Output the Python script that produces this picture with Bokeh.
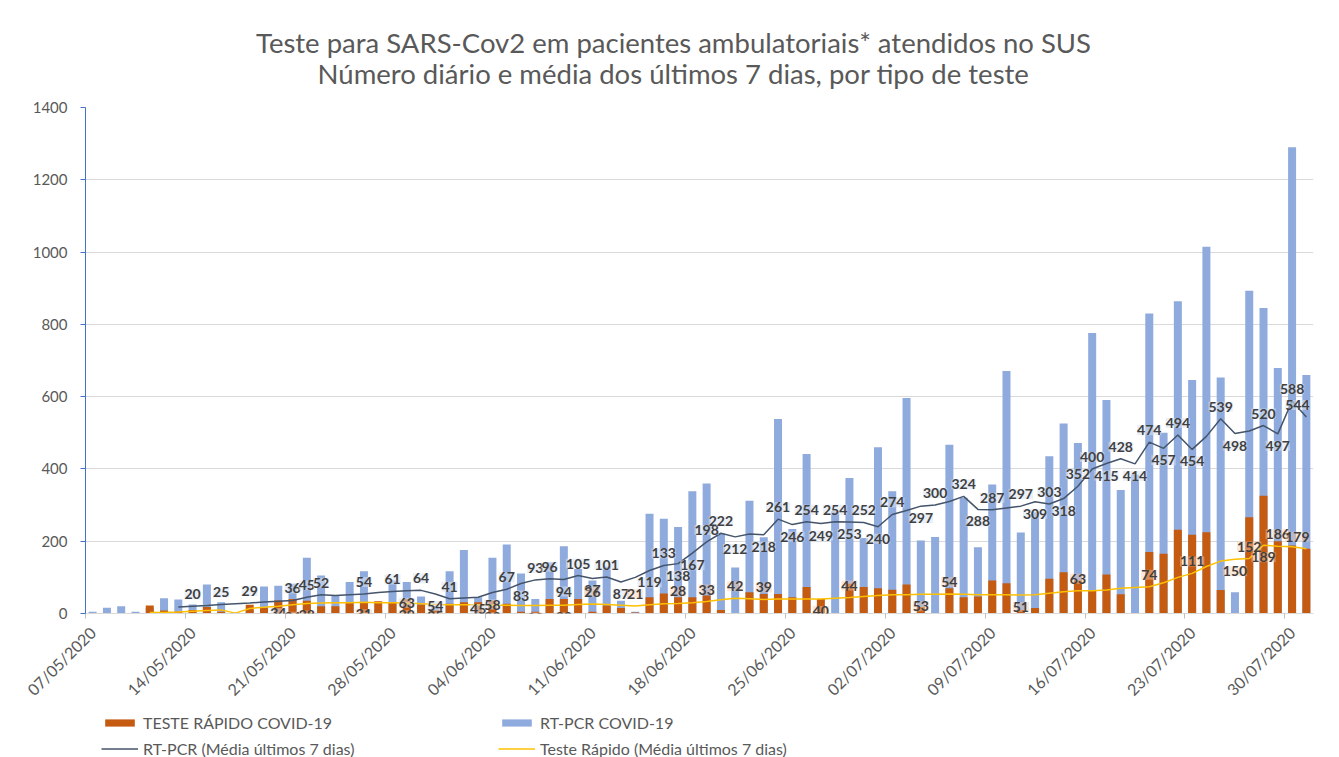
import math
from bokeh.plotting import figure
from bokeh.layouts import column
from bokeh.core.properties import value
from bokeh.models import (ColumnDataSource, LabelSet, Label, Legend, LegendItem,
                          FixedTicker, Range1d)
from bokeh.embed import file_html
from bokeh.resources import INLINE

NaN = float("nan")

# ---------------- data ----------------
title_lines = ["Teste para SARS-Cov2 em pacientes ambulatoriais* atendidos no SUS",
               "Número diário e média dos últimos 7 dias, por tipo de teste"]

tick_labels = ["07/05/2020", "14/05/2020", "21/05/2020", "28/05/2020",
               "04/06/2020", "11/06/2020", "18/06/2020", "25/06/2020",
               "02/07/2020", "09/07/2020", "16/07/2020", "23/07/2020",
               "30/07/2020"]

# daily RT-PCR tests, 07/05 .. 31/07 (86 days)
rt_pcr = [5, 16, 20, 5, 15, 42, 39, 25, 80, 31,
          3, 10, 75, 77, 82, 154, 105, 50, 87, 117,
          10, 91, 87, 47, 20, 117, 176, 45, 154, 191,
          111, 40, 142, 186, 123, 91, 130, 35, 5, 276,
          262, 239, 338, 360, 222, 127, 312, 211, 538, 234,
          441, 20, 283, 375, 209, 460, 338, 596, 202, 212,
          467, 320, 183, 357, 671, 224, 280, 435, 526, 472,
          776, 591, 342, 384, 830, 500, 864, 646, 1015, 653,
          59, 893, 845, 679, 1290, 660]

# daily rapid tests
rapido = [0, 0, 0, 0, 22, 8, 5, 10, 18, 5,
          0, 24, 15, 36, 40, 35, 20, 20, 31, 31,
          34, 31, 40, 25, 10, 27, 31, 31, 36, 27,
          5, 5, 40, 40, 40, 5, 22, 15, 3, 45,
          55, 45, 45, 50, 10, 0, 59, 54, 54, 45,
          73, 40, 0, 82, 73, 70, 66, 80, 18, 0,
          70, 45, 47, 91, 84, 10, 15, 96, 114, 91,
          65, 108, 53, 0, 170, 165, 232, 218, 225, 65,
          0, 266, 326, 200, 188, 179]

# 7-day averages
rt_avg = [NaN, NaN, NaN, NaN, NaN, NaN, 18, 20, 22, 25,
          27, 29, 32, 34, 36, 45, 52, 50, 52, 54,
          58, 61, 63, 64, 54, 41, 43, 45, 58, 67,
          83, 93, 96, 94, 105, 97, 101, 87, 100, 119,
          133, 138, 167, 198, 222, 212, 220, 218, 261, 246,
          254, 249, 254, 253, 252, 240, 274, 285, 297, 300,
          310, 324, 288, 287, 292, 297, 309, 303, 318, 352,
          400, 415, 428, 414, 474, 457, 494, 454, 490, 539,
          498, 505, 520, 497, 588, 544]

rapid_avg = [NaN, NaN, NaN, NaN, 3, 3, 4, 6, 8, 10,
             1, 14, 17, 20, 24, 28, 29, 30, 30, 31,
             30, 30, 29, 27, 25, 24, 24, 24, 23, 23,
             22, 22, 23, 23, 25, 26, 25, 23, 21, 24,
             27, 28, 30, 33, 38, 42, 41, 39, 40, 40,
             40, 40, 42, 44, 47, 50, 52, 52, 53, 53,
             54, 53, 52, 52, 52, 51, 52, 56, 60, 63,
             63, 65, 70, 72, 74, 85, 100, 111, 130, 145,
             150, 152, 189, 186, 185, 179]

# which days carry a visible data label, and on which side (+1 above, -1 below)
rt_label_days = [7, 9, 11, 13, 14, 15, 16, 19, 21, 22, 23, 24, 25, 27, 28, 29,
                 30, 31, 32, 33, 34, 35, 36, 37, 39, 40, 41, 42, 43, 44, 45, 47,
                 48, 49, 50, 51, 52, 53, 54, 55, 56, 58, 59, 61, 62, 63, 65, 66,
                 67, 68, 69, 70, 71, 72, 73, 74, 75, 76, 77, 79, 80, 82, 83, 84, 85]
rt_label_side = [1, 1, 1, -1, 1, 1, 1, 1, 1, -1, 1, -1, 1, -1, -1, 1,
                 -1, 1, 1, -1, 1, -1, 1, -1, -1, 1, -1, -1, 1, 1, -1, -1,
                 1, -1, 1, -1, 1, -1, 1, -1, 1, -1, 1, 1, -1, 1, 1, -1,
                 1, -1, 1, 1, -1, 1, -1, 1, -1, 1, -1, 1, -1, 1, -1, 1, 1]

rapid_label_days = [5, 6, 7, 10, 12, 14, 15, 19, 22, 24, 28, 31, 33, 35, 38, 41,
                    43, 45, 47, 51, 53, 58, 60, 65, 69, 74, 77, 80, 81, 82, 83, 85]
rapid_label_side = [-1, -1, -1, -1, -1, -1, -1, -1, -1, -1, -1, -1, -1, 1, 1, 1,
                    1, 1, 1, -1, 1, -1, 1, -1, 1, 1, 1, -1, 1, -1, 1, 1]

# ---------------- styling ----------------
FONT = "Lato"
TXT = "#595959"
BLUE = "#8FAADC"
ORANGE = "#C55A11"
DARK = "#44546A"
YELLOW = "#FFC000"

W = 1339
TITLE_H = 97
MAIN_H = 615
LEG_H = 45
FRAME_L, FRAME_R = 85, 1313
FRAME_TOP = 10                      # inside the main figure
FRAME_BOTTOM = 613 - TITLE_H        # axis line position inside the main figure

n = len(rt_pcr)
days = list(range(n))

# ---------------- title strip (its frame is aligned with the chart frame) ----------------
tf = figure(width=W, height=TITLE_H, output_backend="svg", toolbar_location=None,
            x_range=Range1d(FRAME_L, FRAME_R), y_range=Range1d(0, TITLE_H),
            x_axis_type=None, y_axis_type=None, min_border=0)
tf.outline_line_color = None
tf.xgrid.grid_line_color = None
tf.ygrid.grid_line_color = None
for txt, ypix in zip(title_lines, [42, 73]):
    tf.add_layout(Label(x=673, y=TITLE_H - ypix, text=txt, text_align="center",
                        text_baseline="middle", text_font=FONT, text_font_size="27.5px",
                        text_color=TXT))

# ---------------- main chart ----------------
p = figure(width=W, height=MAIN_H, output_backend="svg", toolbar_location=None,
           x_range=Range1d(-0.5, n - 0.5), y_range=Range1d(0, 1400),
           min_border_left=FRAME_L, min_border_right=W - FRAME_R, min_border_top=FRAME_TOP,
           min_border_bottom=MAIN_H - FRAME_BOTTOM)
p.outline_line_color = None
p.background_fill_color = "white"

src = ColumnDataSource(dict(x=days, rt=rt_pcr, rap=rapido, rt_avg=rt_avg, rap_avg=rapid_avg))

blue_r = p.vbar(x="x", top="rt", width=0.56, source=src, fill_color=BLUE, line_color=None)
orange_r = p.vbar(x="x", top="rap", width=0.56, source=src, fill_color=ORANGE, line_color=None)
rt_line = p.line(x="x", y="rt_avg", source=src, line_color=DARK, line_width=1.5)
rap_line = p.line(x="x", y="rap_avg", source=src, line_color=YELLOW, line_width=1.5)

# data labels
def label_source(days_, side, series):
    return ColumnDataSource(dict(
        x=days_, y=[series[d] for d in days_],
        t=[str(int(series[d])) for d in days_],
        yoff=[12 * s for s in side],
        xoff=[-9 if d == n - 1 else 0 for d in days_]))

lbl_style = dict(text_align="center", text_baseline="middle", text_font=value(FONT),
                 text_font_size=value("14px"), text_font_style="bold", text_color="#404040")
rt_ls = LabelSet(x="x", y="y", text="t", y_offset="yoff", x_offset="xoff",
                 source=label_source(rt_label_days, rt_label_side, rt_avg),
                 background_fill_color="#DAE3F3", background_fill_alpha=0.55, **lbl_style)
rap_ls = LabelSet(x="x", y="y", text="t", y_offset="yoff", x_offset="xoff",
                  source=label_source(rapid_label_days, rapid_label_side, rapid_avg),
                  background_fill_color="#F8CBAD", background_fill_alpha=0.45, **lbl_style)
p.add_layout(rt_ls)
p.add_layout(rap_ls)

# axes
p.yaxis.ticker = FixedTicker(ticks=list(range(0, 1401, 200)))
p.yaxis.axis_line_color = "#4472C4"
p.yaxis.major_tick_line_color = "#4472C4"
p.yaxis.major_tick_out = 5
p.yaxis.major_tick_in = 0
p.yaxis.minor_tick_line_color = None
p.yaxis.major_label_text_font = FONT
p.yaxis.major_label_text_font_size = "15px"
p.yaxis.major_label_text_color = TXT
p.yaxis.major_label_standoff = 13

centers = [7 * i for i in range(len(tick_labels))]
p.xaxis.ticker = FixedTicker(ticks=centers, minor_ticks=[7 * i - 0.5 for i in range(len(tick_labels))])
p.xaxis.major_label_overrides = {c: lab for c, lab in zip(centers, tick_labels)}
p.xaxis.major_label_orientation = math.pi / 4
p.xaxis.major_tick_line_color = None
p.xaxis.minor_tick_line_color = "#BFBFBF"
p.xaxis.minor_tick_out = 5
p.xaxis.minor_tick_in = 0
p.xaxis.axis_line_color = "#D9D9D9"
p.xaxis.major_label_text_font = FONT
p.xaxis.major_label_text_font_size = "16px"
p.xaxis.major_label_text_color = TXT
p.xaxis.major_label_standoff = 10

p.xgrid.grid_line_color = None
p.ygrid.grid_line_color = "#D9D9D9"

# ---------------- legend strip ----------------
lg = figure(width=W, height=LEG_H, output_backend="svg", toolbar_location=None,
            x_range=Range1d(0, 1), y_range=Range1d(0, 1), x_axis_type=None, y_axis_type=None,
            min_border=0)
lg.outline_line_color = None
lg.xgrid.grid_line_color = None
lg.ygrid.grid_line_color = None
dummy = ColumnDataSource(dict(x=[-10], y=[-10]))
k_orange = lg.vbar(x="x", top="y", width=0.1, source=dummy, fill_color=ORANGE, line_color=None)
k_blue = lg.vbar(x="x", top="y", width=0.1, source=dummy, fill_color=BLUE, line_color=None)
k_dark = lg.line(x="x", y="y", source=dummy, line_color=DARK, line_width=1.5)
k_yellow = lg.line(x="x", y="y", source=dummy, line_color=YELLOW, line_width=1.5)

common = dict(orientation="horizontal", glyph_width=37, glyph_height=9,
              label_width=355, label_standoff=5, spacing=0, padding=0, margin=0,
              border_line_color=None, background_fill_alpha=0,
              label_text_font=FONT, label_text_font_size="16px", label_text_color=TXT)
leg1 = Legend(items=[LegendItem(label="TESTE RÁPIDO COVID-19", renderers=[k_orange]),
                     LegendItem(label="RT-PCR COVID-19", renderers=[k_blue])],
              location=(16, 25), **common)
leg2 = Legend(items=[LegendItem(label="RT-PCR (Média últimos 7 dias)", renderers=[k_dark]),
                     LegendItem(label="Teste Rápido (Média últimos 7 dias)", renderers=[k_yellow])],
              location=(16, -1), **common)
lg.add_layout(leg1)
lg.add_layout(leg2)

layout = column(tf, p, lg, spacing=0)
open("out.html", "w").write(file_html(layout, INLINE))
